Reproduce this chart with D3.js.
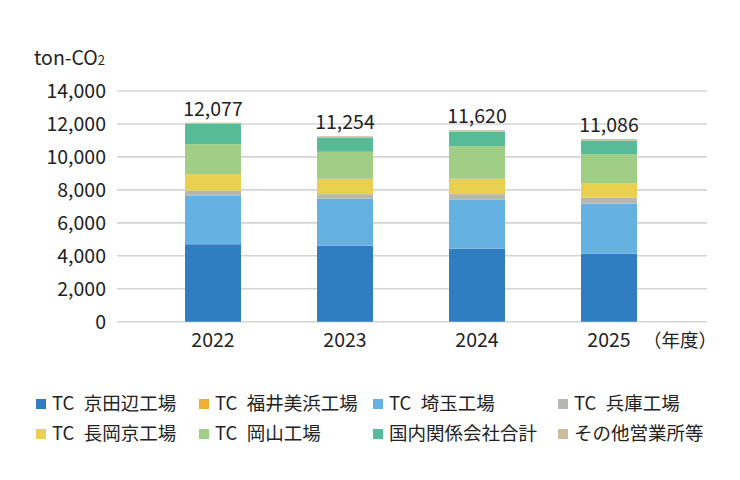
<!DOCTYPE html>
<html>
<head>
<meta charset="utf-8">
<script src="https://cdn.jsdelivr.net/npm/d3@7"></script>
<style>
  body { margin: 0; background: #fff; }
  svg { display: block; font-family: "Noto Sans CJK JP", "Noto Sans", sans-serif; }
</style>
</head>
<body>
<div id="chart"></div>
<script>
const width = 740, height = 480;

// 年度
const years = ["2022", "2023", "2024", "2025"];
// 系列名 (下から順)
const seriesNames = ["TC 京田辺工場", "TC 福井美浜工場", "TC 埼玉工場", "TC 兵庫工場",
                     "TC 長岡京工場", "TC 岡山工場", "国内関係会社合計", "その他営業所等"];
const colors = ["#2e7ec1", "#f0ae32", "#65b1e2", "#b4b8b0", "#e9d04e", "#a1ce87", "#58bb98", "#cbbd9c"];

// 各系列の値 (ton-CO2)
const kyotanabe = [4700, 4617, 4435, 4131];
const fukui     = [5, 5, 5, 5];
const saitama   = [2932, 2851, 2954, 3033];
const hyogo     = [322, 267, 346, 364];
const nagaokakyo= [996, 930, 930, 875];
const okayama   = [1823, 1640, 1986, 1762];
const kanren    = [1233, 868, 869, 826];
const sonota    = [66, 76, 95, 90];
const totals    = [12077, 11254, 11620, 11086];
const yTicks    = [0, 2000, 4000, 6000, 8000, 10000, 12000, 14000];

const seriesValues = [kyotanabe, fukui, saitama, hyogo, nagaokakyo, okayama, kanren, sonota];

const rows = years.map((y, i) => {
    const r = { year: y };
    seriesNames.forEach((s, k) => r[s] = seriesValues[k][i]);
    return r;
});

const svg = d3.select("#chart").append("svg").attr("width", width).attr("height", height);

const x = d3.scaleBand().domain(years).range([147, 675]).paddingInner(0.576).paddingOuter(0.288);
const y = d3.scaleLinear().domain([0, 14000]).range([321.7, 91]);
const gridL = 117, gridR = 707;
const numSize = 19.5;

// グリッド線
svg.append("g").selectAll("line").data(yTicks).join("line")
    .attr("x1", gridL).attr("x2", gridR)
    .attr("y1", d => y(d)).attr("y2", d => y(d))
    .attr("stroke", "#d4d4d4").attr("stroke-width", 1.6);

// y軸ラベル
svg.append("g").selectAll("text").data(yTicks).join("text")
    .attr("x", 106).attr("y", d => y(d)).attr("dy", "0.35em")
    .attr("text-anchor", "end").attr("font-size", numSize).attr("fill", "#222")
    .text(d => d3.format(",")(d));

// 単位
const unit = svg.append("text").attr("x", 34).attr("y", 65).attr("font-size", numSize).attr("fill", "#222");
unit.append("tspan").text("ton-CO");
unit.append("tspan").attr("font-size", 13).text("2");

// 積み上げ
const stacked = d3.stack().keys(seriesNames)(rows);
svg.append("g").selectAll("g").data(stacked).join("g")
    .attr("fill", (d, i) => colors[i])
    .selectAll("rect").data(d => d).join("rect")
    .attr("x", d => x(d.data.year))
    .attr("width", x.bandwidth())
    .attr("y", d => y(d[1]))
    .attr("height", d => y(d[0]) - y(d[1]));

// 合計ラベル
svg.append("g").selectAll("text").data(years).join("text")
    .attr("x", d => x(d) + x.bandwidth() / 2)
    .attr("y", (d, i) => y(totals[i]) - 7)
    .attr("text-anchor", "middle").attr("font-size", numSize).attr("fill", "#222")
    .text((d, i) => d3.format(",")(totals[i]));

// x軸ラベル
svg.append("g").selectAll("text").data(years).join("text")
    .attr("x", d => x(d) + x.bandwidth() / 2).attr("y", 347)
    .attr("text-anchor", "middle").attr("font-size", numSize).attr("fill", "#222")
    .text(d => d);
svg.append("text").attr("x", 643).attr("y", 347).attr("font-size", 18.5).attr("fill", "#222").text("（年度）");

// 凡例
const legX = [36, 199, 373, 558];
const legend = svg.append("g").selectAll("g").data(seriesNames).join("g")
    .attr("transform", (d, i) => `translate(${legX[i % 4]},${i < 4 ? 404 : 434})`);
legend.append("rect").attr("x", 0).attr("y", -5).attr("width", 10).attr("height", 10)
    .attr("fill", (d, i) => colors[i]);
legend.append("text").attr("x", 16).attr("dy", "0.35em").attr("font-size", 18.5).attr("fill", "#222")
    .text(d => d.replace(" ", "\u2002"));
</script>
</body>
</html>
